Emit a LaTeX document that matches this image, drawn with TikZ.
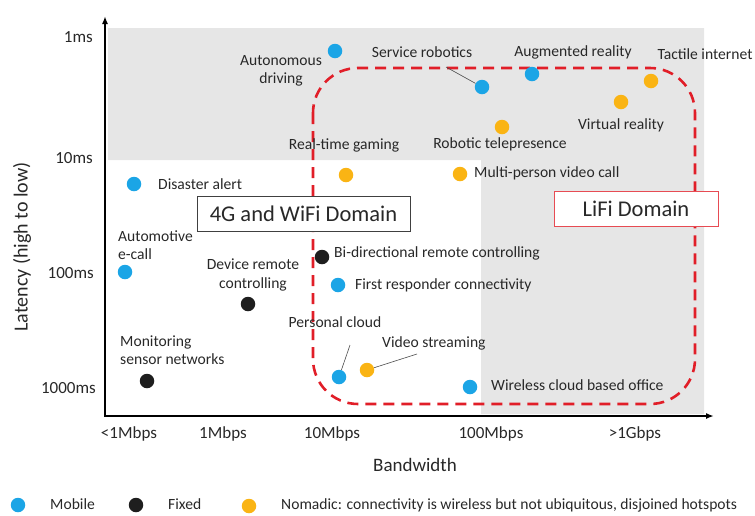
\documentclass[tikz,border=0pt]{standalone}
\usepackage{fontspec}
\setmainfont{Carlito}
\usetikzlibrary{arrows.meta}
\definecolor{mob}{RGB}{27,165,230}
\definecolor{fix}{RGB}{30,30,30}
\definecolor{nom}{RGB}{250,180,20}
\definecolor{dred}{RGB}{225,30,40}
\definecolor{bg}{RGB}{230,230,230}
\definecolor{txt}{RGB}{40,40,40}
\tikzset{
  dotbase/.style={circle,inner sep=0pt,minimum size=14.5pt},
  mobile/.style={dotbase,fill=mob},
  fixed/.style={dotbase,fill=fix},
  nomadic/.style={dotbase,fill=nom},
  lab/.style={inner sep=0pt,text=txt,font=\fontsize{15.6}{18.5}\selectfont},
  ticklab/.style={inner sep=0pt,text=txt,font=\fontsize{17}{20}\selectfont},
  axisarrow/.style={line width=2pt,-{Latex[length=8pt,width=6pt]}},
  leader/.style={line width=0.6pt,draw=black!70},
  domainbox/.style={draw,line width=1pt,minimum height=35pt,font=\fontsize{22.5}{26}\selectfont,inner xsep=6pt,inner ysep=2pt}
}
\begin{document}
\begin{tikzpicture}[x=1pt,y=-1pt]
\useasboundingbox (0,0) rectangle (755,515);
% gray region
\fill[bg] (108,28) -- (704,28) -- (704,414) -- (481,414) -- (481,160) -- (108,160) -- cycle;
% axes
\coordinate (origin) at (105,416);
\coordinate (ytop) at (105,16);
\coordinate (xend) at (714,416);
\draw[axisarrow] (origin) -- (ytop);
\draw[axisarrow] ([xshift=-1pt]origin) -- (xend);
% tick labels
\node[ticklab,anchor=east] (t1) at (93,37) {1ms};
\node[ticklab,anchor=east] (t10) at (93,158) {10ms};
\node[ticklab,anchor=east] (t100) at (94,273) {100ms};
\node[ticklab,anchor=east] (t1000) at (96,388) {1000ms};
\node[ticklab] (b1) at (129,434) {<1Mbps};
\node[ticklab] (b2) at (223,434) {1Mbps};
\node[ticklab] (b3) at (332,434) {10Mbps};
\node[ticklab] (b4) at (491,434) {100Mbps};
\node[ticklab] (b5) at (635,434) {>1Gbps};
\node[inner sep=0pt,text=txt,font=\fontsize{19}{22}\selectfont] (xl) at (415,465) {Bandwidth};
\node[inner sep=0pt,text=txt,font=\fontsize{20}{23}\selectfont,rotate=90] (yl) at (22,247) {Latency (high to low)};
% red LiFi region
\draw[dred,line width=2.6pt,dash pattern=on 11pt off 7pt,rounded corners=45pt] (313,68) rectangle (695,404);
% domain boxes
\node[domainbox,draw=black!75,fill=white,text=txt,minimum width=213pt] (wifi) at (303.5,213.5) {4G and WiFi Domain};
\node[domainbox,draw=dred!80,fill=white,text=txt,minimum width=164pt] (lifi) at (636,209) {LiFi Domain};
% dots
\node[mobile] (auto) at (335,51) {};
\node[mobile] (serv) at (482,87) {};
\node[mobile] (aug) at (532,74) {};
\node[nomadic] (tact) at (651,81) {};
\node[nomadic] (vr) at (621,102) {};
\node[nomadic] (tele) at (502,127) {};
\node[nomadic] (game) at (346,175) {};
\node[nomadic] (mpv) at (460,174) {};
\node[mobile] (dis) at (134,184) {};
\node[mobile] (ecall) at (125,272) {};
\node[fixed] (drc) at (248,304) {};
\node[fixed] (bidir) at (322,257) {};
\node[mobile] (first) at (338,285) {};
\node[mobile] (pcloud) at (339,377) {};
\node[nomadic] (video) at (367,370) {};
\node[fixed] (mon) at (147,381) {};
\node[mobile] (wco) at (470,387) {};
% labels
\node[lab,align=center] (autoL) at (281,71) {Autonomous\\driving};
\node[lab] (servL) at (422,52) {Service robotics};
\node[lab] (augL) at (573,52) {Augmented reality};
\node[lab] (tactL) at (705,54) {Tactile internet};
\node[lab] (vrL) at (621,125) {Virtual reality};
\node[lab] (teleL) at (500,144) {Robotic telepresence};
\node[lab] (gameL) at (344,145) {Real-time gaming};
\node[lab,anchor=west] (mpvL) at (474,173) {Multi-person video call};
\node[lab,anchor=west] (disL) at (158,184) {Disaster alert};
\node[lab,align=left,anchor=west] (ecallL) at (118,245) {Automotive\\e-call};
\node[lab,align=center] (drcL) at (253,275) {Device remote\\controlling};
\node[lab,anchor=west] (bidirL) at (334,253) {Bi-directional remote controlling};
\node[lab,anchor=west] (firstL) at (355,285) {First responder connectivity};
\node[lab] (pcloudL) at (335,322) {Personal cloud};
\node[lab,anchor=west] (videoL) at (382,343) {Video streaming};
\node[lab,align=left,anchor=west] (monL) at (120,350) {Monitoring\\sensor networks};
\node[lab,anchor=west] (wcoL) at (491,385) {Wireless cloud based office};
% leader lines
\coordinate (sr1) at (446,67);
\coordinate (pc1) at (350,345);
\coordinate (vs1) at (417,354);
\draw[leader] (sr1) -- (serv);
\draw[leader] (pc1) -- (pcloud);
\draw[leader] (vs1) -- (video);
% legend
\node[mobile] (lm) at (18,505) {};
\node[lab,anchor=west] (lmL) at (50,504) {Mobile};
\node[fixed] (lf) at (136,505) {};
\node[lab,anchor=west] (lfL) at (168,504) {Fixed};
\node[nomadic] (ln) at (249,506) {};
\node[lab,anchor=west] (lnL) at (281,505) {Nomadic: connectivity is wireless but not ubiquitous, disjoined hotspots};
\end{tikzpicture}
\end{document}
